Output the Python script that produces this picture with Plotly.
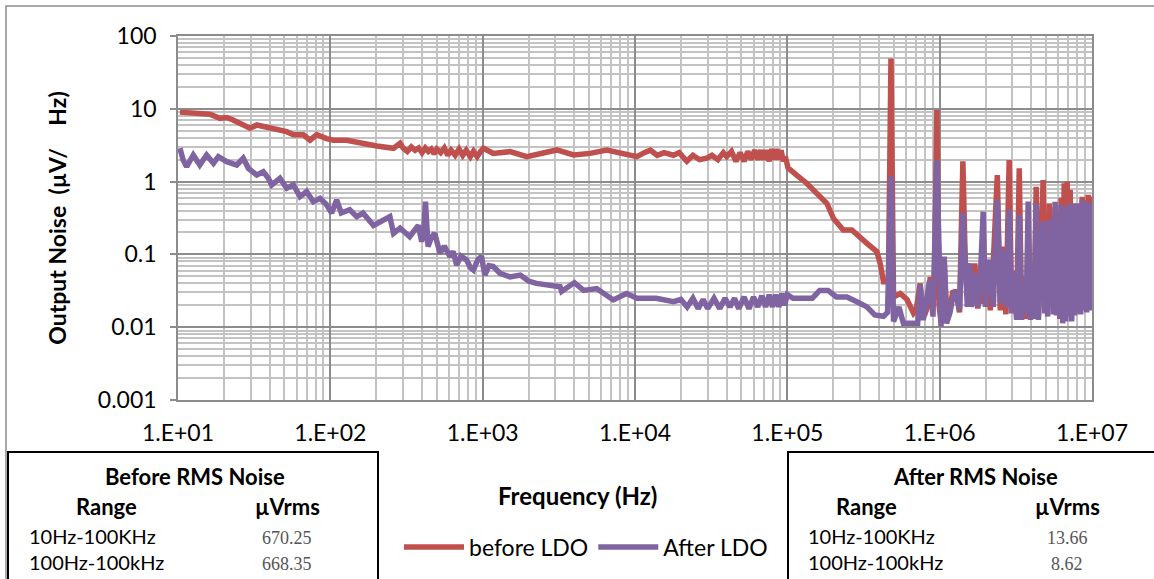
import plotly.graph_objects as go

# ---------------- data ----------------
freq_before = [
    10.3, 12.5, 16.2, 18.9, 20.9, 23, 26.7, 29.7, 32.9, 38.2, 44.5, 51.7, 57.2, 66.5, 73.6, 81.4, 94.6,
    105, 128, 157, 202, 260, 287,
    300, 320, 340, 360, 380, 400, 420, 440, 460, 480, 500, 530, 560, 590, 620, 660, 700, 740, 780,
    830, 870, 920, 970, 1011, 1175, 1513, 1948, 2506, 3069, 3948, 5074, 6530, 8395,
    10300, 11500, 12600, 14000, 15500, 17900, 19500, 21900, 24000, 26500, 29600, 32000, 35000,
    38000, 40000, 43000, 46000, 49000, 52000, 55000, 58000, 61000, 64000, 67000, 70000, 73000,
    76000, 79000, 82000, 85000, 88000, 91000, 94000, 97000, 101000, 115000, 134000, 156000,
    182000, 201000, 233000, 265000, 293000, 333000, 387000, 407000, 428000, 461000, 479000,
    498000, 551000, 610000, 674000, 700000, 745000, 770000, 804000, 840000, 867000, 890000,
    921000, 958000, 990000, 1.02e6, 1.07e6, 1.11e6, 1.17e6, 1.22e6, 1.28e6, 1.35e6, 1.42e6,
    1.48e6, 1.55e6, 1.62e6, 1.70e6, 1.78e6, 1.87e6, 1.95e6, 2.05e6, 2.15e6, 2.25e6, 2.39e6,
    2.50e6, 2.61e6, 2.72e6, 2.86e6, 2.97e6, 3.08e6, 3.20e6, 3.33e6, 3.45e6, 3.59e6, 3.70e6,
    3.81e6, 3.95e6, 4.05e6, 4.17e6, 4.30e6, 4.45e6, 4.57e6, 4.78e6, 4.90e6, 5.0e6, 5.12e6,
    5.24e6, 5.36e6, 5.48e6, 5.6e6, 5.73e6, 5.85e6, 6.0e6, 6.14e6, 6.28e6, 6.42e6, 6.57e6,
    6.72e6, 6.87e6, 7.03e6, 7.19e6, 7.36e6, 7.53e6, 7.7e6, 7.87e6, 8.05e6, 8.24e6, 8.43e6,
    8.62e6, 8.82e6, 9.02e6, 9.23e6, 9.44e6, 9.66e6, 9.88e6, 1.0e7,
]
noise_before = [
    9.0, 8.7, 8.4, 7.4, 7.6, 7.0, 6.0, 5.4, 6.0, 5.6, 5.4, 4.85, 4.4, 4.4, 3.7, 4.4, 3.9,
    3.7, 3.7, 3.36, 3.08, 2.87, 3.36,
    2.9, 2.6, 3.0, 2.7, 2.9, 2.5, 2.9, 2.6, 2.8, 2.4, 2.8, 2.5, 2.9, 2.3, 2.7, 2.3, 2.8, 2.3, 2.7,
    2.2, 2.6, 2.2, 2.6, 2.87, 2.44, 2.58, 2.2, 2.44, 2.72, 2.32, 2.44, 2.72, 2.44,
    2.2, 2.5, 2.7, 2.3, 2.5, 2.3, 2.5, 1.9, 2.3, 2.0, 2.1, 2.3, 2.0,
    2.5, 2.2, 2.6, 1.9, 2.5, 1.9, 2.6, 2.0, 2.7, 2.0, 2.7, 2.0, 2.7,
    1.9, 2.8, 2.0, 2.8, 2.0, 2.7, 1.9, 2.2, 1.55, 1.23, 0.95, 0.69,
    0.50, 0.31, 0.216, 0.216, 0.175, 0.142, 0.109, 0.075, 0.042, 0.042, 49,
    0.026, 0.029, 0.024, 0.0155, 0.017, 0.040, 0.016, 0.0155, 0.02, 0.049, 0.022,
    0.026, 9.6, 0.02, 0.012, 0.09, 0.015, 0.02, 0.03, 0.031, 0.016, 1.9,
    0.05, 0.075, 0.02, 0.075, 0.018, 0.06, 0.021, 0.084, 0.017, 0.08, 1.23,
    0.017, 0.128, 0.015, 1.98, 0.016, 0.06, 0.014, 1.52, 0.014, 0.05, 0.013,
    0.2, 0.014, 0.06, 0.015, 0.85, 0.014, 0.1, 1.05, 0.016, 0.2, 0.015,
    0.5, 0.02, 0.3, 0.018, 0.45, 0.016, 0.4, 0.015, 0.6, 0.016, 0.95,
    0.015, 1.0, 0.014, 0.77, 0.016, 0.5, 0.015, 0.45, 0.016, 0.5, 0.018,
    0.62, 0.017, 0.55, 0.02, 0.66, 0.018, 0.62, 0.5,
]

freq_after = [
    10.3, 10.8, 11.4, 12.6, 13.9, 15.4, 17.1, 18.4, 20.9, 24.3, 26.8, 29, 32.9, 36.3, 39.2, 41.2,
    46.7, 51.7, 57.2, 63.2, 69.9, 77.3, 85.6, 94.6, 102, 110, 118, 134, 149, 164, 192, 212, 246,
    260, 287, 332, 355, 378, 398, 410, 421, 438, 460, 484, 525, 560, 611, 640, 675, 720, 784, 830,
    869, 930, 983, 1033, 1100, 1175, 1300, 1513, 1767, 2000, 2254, 2900, 3222, 3300, 3600, 4000,
    4600, 5600, 7200, 8800, 10300, 13800, 17900, 20000, 22000, 24000, 26000, 28000, 30000,
    33000, 36000, 39000, 42000, 45000, 48000, 52000, 56000, 60000, 64000, 68000, 72000, 76000,
    80000, 84000, 88000, 92000, 96000, 100000, 109000, 146000, 163000, 185000, 210000, 246000,
    286000, 333000, 375000, 428000, 455000, 479000, 498000, 540000, 578000, 674000, 717000,
    745000, 780000, 859000, 904000, 958000, 1.02e6, 1.07e6, 1.11e6, 1.17e6, 1.22e6, 1.28e6,
    1.35e6, 1.42e6, 1.46e6, 1.52e6, 1.58e6, 1.62e6, 1.70e6, 1.78e6, 1.85e6, 1.93e6, 2.0e6,
    2.08e6, 2.15e6, 2.25e6, 2.39e6, 2.50e6, 2.61e6, 2.72e6, 2.86e6, 2.97e6, 3.08e6, 3.20e6,
    3.33e6, 3.45e6, 3.59e6, 3.70e6, 3.81e6, 3.95e6, 4.05e6, 4.17e6, 4.30e6, 4.45e6, 4.57e6,
    4.78e6, 4.90e6, 5.0e6, 5.12e6, 5.24e6, 5.36e6, 5.48e6, 5.6e6, 5.73e6, 5.85e6, 6.0e6,
    6.14e6, 6.28e6, 6.42e6, 6.57e6, 6.72e6, 6.87e6, 7.03e6, 7.19e6, 7.36e6, 7.53e6, 7.7e6,
    7.87e6, 8.05e6, 8.24e6, 8.43e6, 8.62e6, 8.82e6, 9.02e6, 9.23e6, 9.44e6, 9.66e6, 9.88e6, 1.0e7,
]
noise_after = [
    2.87, 1.98, 1.60, 2.32, 1.69, 2.32, 1.78, 2.2, 1.88, 1.69, 2.09, 1.52, 1.23, 1.37, 1.11, 0.90,
    1.11, 0.81, 0.90, 0.62, 0.73, 0.53, 0.59, 0.48, 0.37, 0.56, 0.37, 0.41, 0.33, 0.37, 0.25, 0.28, 0.33,
    0.195, 0.23, 0.175, 0.21, 0.25, 0.15, 0.2, 0.53, 0.128, 0.17, 0.195, 0.104, 0.13, 0.093, 0.11, 0.0715, 0.095, 0.084, 0.066,
    0.061, 0.085, 0.094, 0.052, 0.07, 0.068, 0.055, 0.049, 0.052, 0.043, 0.040, 0.038, 0.036, 0.031, 0.036, 0.041,
    0.032, 0.034, 0.0237, 0.029, 0.025, 0.025, 0.0224, 0.024, 0.019, 0.025, 0.018, 0.024, 0.018,
    0.025, 0.018, 0.025, 0.019, 0.025, 0.018, 0.026, 0.018, 0.026, 0.019, 0.027, 0.019, 0.028,
    0.019, 0.028, 0.019, 0.029, 0.02, 0.028, 0.025, 0.025, 0.032, 0.032, 0.026, 0.026,
    0.0224, 0.019, 0.0147, 0.0141, 0.016, 1.17, 0.012, 0.019, 0.0113, 0.0113, 0.0113,
    0.038, 0.0125, 0.044, 0.014, 1.98, 0.0102, 0.093, 0.0113, 0.016, 0.026, 0.032,
    0.017, 0.37, 0.068, 0.019, 0.075, 0.019, 0.055, 0.019, 0.05, 0.386, 0.019,
    0.06, 0.084, 0.019, 0.56, 0.0215, 0.115, 0.019, 0.41, 0.0155, 0.055, 0.0126,
    0.35, 0.0126, 0.04, 0.015, 0.53, 0.0126, 0.06, 0.013, 0.5, 0.0126, 0.08,
    0.28, 0.0155, 0.1, 0.014, 0.3, 0.024, 0.2, 0.015, 0.53, 0.0145, 0.3,
    0.013, 0.48, 0.0113, 0.2, 0.012, 0.45, 0.015, 0.5, 0.012, 0.45, 0.0145,
    0.5, 0.017, 0.45, 0.015, 0.56, 0.018, 0.5, 0.016, 0.52, 0.017, 0.5, 0.02,
]

x_tick_vals = [1e1, 1e2, 1e3, 1e4, 1e5, 1e6, 1e7]
x_tick_text = ["1.E+01", "1.E+02", "1.E+03", "1.E+04", "1.E+05", "1.E+06", "1.E+07"]
y_tick_vals = [0.001, 0.01, 0.1, 1, 10, 100]
y_tick_text = ["0.001", "0.01", "0.1", "1", "10", "100"]

table_before = [["10Hz-100KHz", "670.25"], ["100Hz-100kHz", "668.35"]]
table_after = [["10Hz-100KHz", "13.66"], ["100Hz-100kHz", "8.62"]]

# ---------------- layout helpers ----------------
W, H = 1154, 579
ML, MR, MT, MB = 178, 62, 36, 179
PW, PH = W - ML - MR, H - MT - MB


def px(x):
    return (x - ML) / PW


def py(y):
    return (H - MB - y) / PH


FONT = "Lato, 'Open Sans', sans-serif"
RED = "#C0504D"
PURPLE = "#8064A2"
MAJOR = "#8C8C8C"
MINOR = "#C3C3C3"

fig = go.Figure()
fig.add_trace(go.Scatter(x=freq_before, y=noise_before, mode="lines", name="before LDO",
                         line=dict(color=RED, width=5.5)))
fig.add_trace(go.Scatter(x=freq_after, y=noise_after, mode="lines", name="After LDO",
                         line=dict(color=PURPLE, width=5.5)))

fig.update_layout(
    width=W, height=H,
    margin=dict(l=ML, r=MR, t=MT, b=MB, autoexpand=False),
    paper_bgcolor="white", plot_bgcolor="white",
    font=dict(family=FONT, size=20, color="black"),
    showlegend=True,
    legend=dict(orientation="h", x=px(586), xanchor="center", y=py(547), yanchor="middle",
                font=dict(family=FONT, size=23, color="black"), itemwidth=60,
                bgcolor="rgba(0,0,0,0)", tracegroupgap=0),
    xaxis=dict(
        type="log", range=[1, 7], tickvals=x_tick_vals, ticktext=x_tick_text,
        showgrid=True, gridcolor=MAJOR, gridwidth=1.6,
        minor=dict(dtick="D1", showgrid=True, gridcolor=MINOR, gridwidth=1.6, ticks=""),
        showline=True, linecolor=MAJOR, linewidth=1.6, mirror=True,
        ticks="", ticklabelstandoff=12, tickfont=dict(family=FONT, size=23, color="black"),
        zeroline=False,
    ),
    yaxis=dict(
        type="log", range=[-3, 2], tickvals=y_tick_vals, ticktext=y_tick_text,
        showgrid=True, gridcolor=MAJOR, gridwidth=1.6,
        minor=dict(dtick="D1", showgrid=True, gridcolor=MINOR, gridwidth=1.6, ticks=""),
        showline=True, linecolor=MAJOR, linewidth=1.6, mirror=True,
        ticks="outside", ticklen=6, tickcolor=MAJOR, tickwidth=1.6, ticklabelstandoff=9,
        tickfont=dict(family=FONT, size=23, color="black"),
        title=dict(text="<b>Output Noise\u00a0\u00a0(µV/\u00a0\u00a0\u00a0\u00a0Hz)</b>",
                   font=dict(family=FONT, size=23, color="black"), standoff=25),
        zeroline=False,
    ),
)

shapes = []
# outer chart border
shapes.append(dict(type="rect", xref="paper", yref="paper", x0=px(6), x1=px(1170), y0=py(620), y1=py(6),
                   line=dict(color="#8C8C8C", width=1.5), fillcolor="rgba(0,0,0,0)", layer="below"))
# RMS tables
for x0, x1 in [(8, 378), (788, 1170)]:
    shapes.append(dict(type="rect", xref="paper", yref="paper", x0=px(x0), x1=px(x1), y0=py(620), y1=py(452),
                       line=dict(color="black", width=2), fillcolor="white"))
fig.update_layout(shapes=shapes)

ann = []


def text(x, y, s, size=20, bold=False, anchor="center", color="black", family=FONT):
    ann.append(dict(xref="paper", yref="paper", x=px(x), y=py(y), xanchor=anchor, yanchor="middle",
                    text=f"<b>{s}</b>" if bold else s, showarrow=False,
                    font=dict(family=family, size=size, color=color)))


# x-axis title (placed off-centre, as in the reference)
text(577, 495, "Frequency (Hz)", size=24, bold=True)

SERIF = "'Liberation Serif', 'DejaVu Serif', serif"
for (title, cx, range_x, val_x, left_x, rows) in [
    ("Before RMS Noise", 195, 106, 287, 27, table_before),
    ("After RMS Noise", 975, 866, 1067, 806, table_after),
]:
    text(cx, 477, title, size=22, bold=True)
    text(range_x, 506, "Range", size=22, bold=True)
    text(val_x, 506, "µVrms", size=22, bold=True)
    for (r, v), yy in zip(rows, [536, 562]):
        text(left_x, yy, r, size=20, anchor="left")
        text(val_x, yy + 2, v, size=18, color="#555555", family=SERIF)

fig.update_layout(annotations=ann)

fig.write_html("out.html", config={"displayModeBar": False},
               post_script="document.body.style.margin='0';")
